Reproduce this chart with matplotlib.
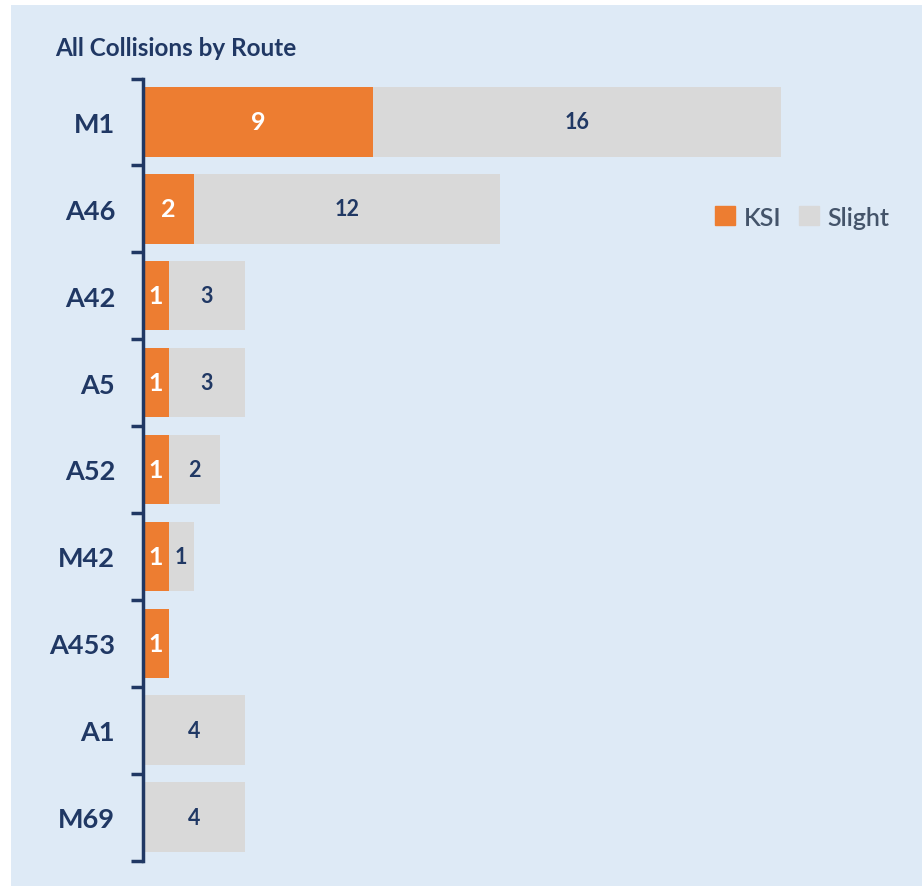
import matplotlib.pyplot as plt
import matplotlib.patches as mpatches
import numpy as np

routes = ['M1', 'A46', 'A42', 'A5', 'A52', 'M42', 'A453', 'A1', 'M69']
ksi = [9, 2, 1, 1, 1, 1, 1, 0, 0]
slight = [16, 12, 3, 3, 2, 1, 0, 4, 4]

navy = '#203864'
orange = '#ED7D31'
grey = '#D9D9D9'
bg = '#DEEAF6'

plt.rcParams['font.family'] = ['Lato', 'DejaVu Sans']

W, H = 922, 887
fig = plt.figure(figsize=(W / 100, H / 100), dpi=100)
fig.patch.set_facecolor('white')
fig.patches.append(mpatches.Rectangle((11 / W, 0), 1, 1 - 6 / H, transform=fig.transFigure,
                                      facecolor=bg, edgecolor='none', zorder=-10))

ax = fig.add_axes([143 / W, 1 - 861.5 / H, 766 / W, 782 / H])
ax.set_facecolor('none')

y = np.arange(len(routes))
b1 = ax.barh(y, ksi, height=0.8, color=orange)
b2 = ax.barh(y, slight, left=ksi, height=0.8, color=grey)

for i in range(len(routes)):
    if ksi[i] > 0:
        ax.text(ksi[i] / 2, y[i], str(ksi[i]), ha='center', va='center',
                color='white', fontsize=18, fontweight='bold')
    if slight[i] > 0:
        ax.text(ksi[i] + slight[i] / 2, y[i], str(slight[i]), ha='center', va='center',
                color=navy, fontsize=15.5, fontweight='bold')

ax.set_xlim(0, 30)
ax.set_ylim(len(routes) - 0.5, -0.5)
ax.set_yticks(y)
ax.set_yticklabels(routes, fontsize=19.5, fontweight='bold', color=navy)
ax.tick_params(axis='y', which='major', length=0, pad=20)
ax.set_yticks(np.arange(-0.5, len(routes)), minor=True)
ax.tick_params(axis='y', which='minor', length=9, width=2.5, color=navy, direction='out')
ax.set_xticks([])
for s in ['top', 'right', 'bottom']:
    ax.spines[s].set_visible(False)
ax.spines['left'].set_color(navy)
ax.spines['left'].set_linewidth(2.5)

fig.text(55 / W, 1 - 48 / H, 'All Collisions by Route', fontsize=17.5, fontweight='bold',
         color=navy, ha='left', va='center')

handles = [mpatches.Patch(color=orange, label='KSI'), mpatches.Patch(color=grey, label='Slight')]
fig.legend(handles=handles, loc='center', bbox_to_anchor=(802 / W, 1 - 218 / H), ncol=2,
           frameon=False, prop={'size': 18, 'weight': 'semibold'}, labelcolor='#44546A',
           handlelength=0.8, handleheight=0.8, handletextpad=0.35, columnspacing=0.7)

fig.savefig('out.png', dpi=100)
